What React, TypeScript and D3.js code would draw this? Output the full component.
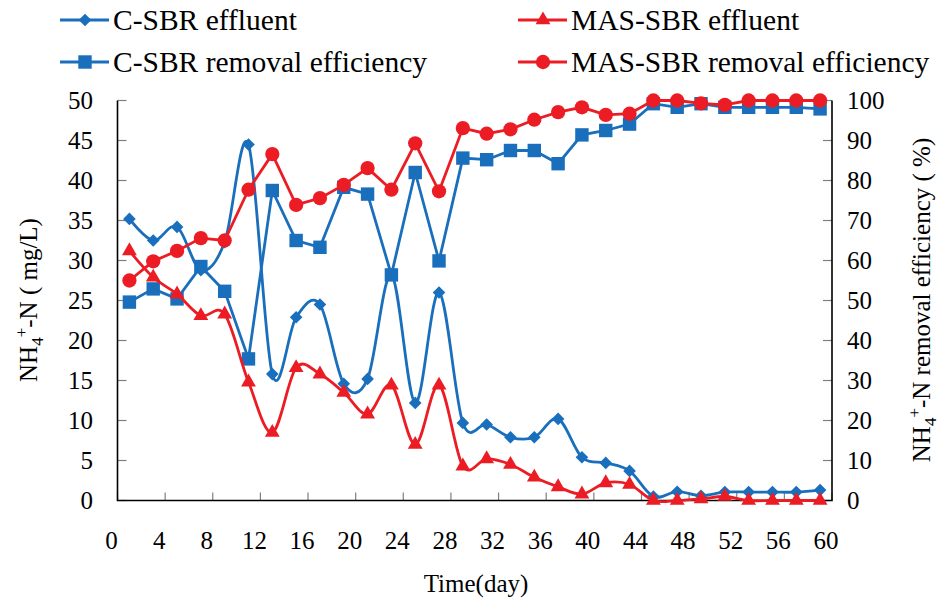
import React, { useEffect, useRef } from 'react'
import * as d3 from 'd3'

// sampling days
const days = [1, 3, 5, 7, 9, 11, 13, 15, 17, 19, 21, 23, 25, 27, 29, 31, 33, 35, 37, 39, 41, 43, 45, 47, 49, 51, 53, 55, 57, 59]

// NH4+-N effluent (mg/L)
const cEffluent = [35.2, 32.5, 34.2, 28.8, 32.3, 44.5, 15.8, 22.9, 24.5, 14.6, 15.2, 28.2, 12.2, 26.0, 9.7, 9.5, 7.9, 7.9, 10.2, 5.4, 4.7, 3.7, 0.5, 1.1, 0.6, 1.05, 1.05, 1.05, 1.05, 1.3]
const masEffluent = [31.2, 27.9, 25.8, 23.1, 23.3, 14.8, 8.5, 16.6, 15.8, 13.5, 10.8, 14.4, 7.0, 14.4, 4.3, 5.2, 4.5, 2.9, 1.7, 0.8, 2.2, 2.0, 0, 0, 0.2, 0.5, 0, 0, 0, 0]

// removal efficiency (%)
const cRemoval = [49.6, 52.9, 50.4, 58.5, 52.3, 35.4, 77.5, 65.0, 63.3, 78.3, 76.6, 56.4, 82.0, 59.9, 85.6, 85.2, 87.5, 87.5, 84.2, 91.4, 92.5, 94.1, 99.2, 98.3, 99.2, 98.3, 98.3, 98.3, 98.3, 97.9]
const masRemoval = [55.0, 59.8, 62.4, 65.6, 65.0, 77.7, 86.6, 73.9, 75.6, 78.9, 83.1, 77.7, 89.3, 77.3, 93.1, 91.7, 92.8, 95.2, 97.1, 98.3, 96.4, 96.7, 100, 100, 99.3, 98.9, 100, 100, 100, 100]

const xTicks = [0, 4, 8, 12, 16, 20, 24, 28, 32, 36, 40, 44, 48, 52, 56, 60]
const leftTicks = [0, 5, 10, 15, 20, 25, 30, 35, 40, 45, 50]
const rightTicks = [0, 10, 20, 30, 40, 50, 60, 70, 80, 90, 100]

const BLUE = '#1a6fbc'
const RED = '#ec1c24'
const FONT = "'Liberation Serif', 'Times New Roman', serif"

const App = () => {
  const svgRef = useRef<SVGSVGElement>(null)

  useEffect(() => {
    const svg = d3.select(svgRef.current)
    svg.selectAll('*').remove()

    const left = 117.5
    const right = 832
    const top = 100.5
    const bottom = 500.5

    const x = d3.scaleLinear().domain([0, 60]).range([left, right])
    const yL = d3.scaleLinear().domain([0, 50]).range([bottom, top])
    const yR = d3.scaleLinear().domain([0, 100]).range([bottom, top])

    // ticks (inside)
    const tickG = svg.append('g').style('stroke', '#7f7f7f').style('stroke-width', 1.2)
    leftTicks.forEach((t) => {
      tickG.append('line').attr('x1', left).attr('x2', left + 9).attr('y1', yL(t)).attr('y2', yL(t))
    })
    rightTicks.forEach((t) => {
      tickG.append('line').attr('x1', right).attr('x2', right - 9).attr('y1', yR(t)).attr('y2', yR(t))
    })
    xTicks.forEach((t) => {
      tickG.append('line').attr('x1', x(t)).attr('x2', x(t)).attr('y1', bottom).attr('y2', bottom - 8)
    })

    // axis lines
    svg
      .append('path')
      .attr('d', `M${left},${top}V${bottom}H${right}V${top}`)
      .style('fill', 'none')
      .style('stroke', '#000')
      .style('stroke-width', 1.6)

    // tick labels
    const labels = svg.append('g').attr('font-family', FONT).attr('font-size', 25).attr('fill', '#000')
    leftTicks.forEach((t) => {
      labels.append('text').attr('x', 93).attr('y', yL(t) + 8).attr('text-anchor', 'end').text(t)
    })
    rightTicks.forEach((t) => {
      labels.append('text').attr('x', 847).attr('y', yR(t) + 8).attr('text-anchor', 'start').text(t)
    })
    xTicks.forEach((t) => {
      labels.append('text').attr('x', x(t) - 6).attr('y', 549).attr('text-anchor', 'middle').text(t)
    })

    // axis titles
    labels.append('text').attr('x', 476).attr('y', 592).attr('text-anchor', 'middle').text('Time(day)')

    const nh4 = (g: any, rest: string) => {
      g.append('tspan').text('NH')
      g.append('tspan').attr('dy', 6).attr('font-size', 17).text('4')
      g.append('tspan').attr('dy', -16).attr('font-size', 17).text('+')
      g.append('tspan').attr('dy', 10).text(rest)
    }
    const lt = labels
      .append('text')
      .attr('transform', `translate(37, 300) rotate(-90)`)
      .attr('text-anchor', 'middle')
    nh4(lt, '-N ( mg/L)')
    const rt = labels
      .append('text')
      .attr('transform', `translate(930, 300) rotate(-90)`)
      .attr('text-anchor', 'middle')
    nh4(rt, '-N removal efficiency ( %)')

    // markers
    const symbols: Record<string, any> = {
      diamond: d3.symbol().type(d3.symbolSquare).size(80),
      square: d3.symbol().type(d3.symbolSquare).size(180),
      triangle: d3.symbol().type(d3.symbolTriangle).size(95),
      circle: d3.symbol().type(d3.symbolCircle).size(160),
    }
    const drawMarker = (g: any, kind: string, cx: number, cy: number, color: string) => {
      g.append('path')
        .attr('d', symbols[kind]())
        .attr('transform', `translate(${cx},${cy})${kind === 'diamond' ? ' rotate(45)' : ''}`)
        .style('fill', color)
    }

    const series = [
      { values: cEffluent, scale: yL, color: BLUE, marker: 'diamond', smooth: true },
      { values: cRemoval, scale: yR, color: BLUE, marker: 'square', smooth: false },
      { values: masEffluent, scale: yL, color: RED, marker: 'triangle', smooth: true },
      { values: masRemoval, scale: yR, color: RED, marker: 'circle', smooth: false },
    ]

    series.forEach((s) => {
      const line = d3
        .line<number>()
        .x((_, i) => x(days[i]))
        .y((d) => s.scale(d))
        .curve(s.smooth ? d3.curveCardinal.tension(0) : d3.curveLinear)
      const g = svg.append('g')
      g.append('path')
        .attr('d', line(s.values))
        .style('fill', 'none')
        .style('stroke', s.color)
        .style('stroke-width', 2.8)
      s.values.forEach((v, i) => drawMarker(g, s.marker, x(days[i]), s.scale(v), s.color))
    })

    // legend
    const legend = [
      { name: 'C-SBR effluent', color: BLUE, marker: 'diamond', lx: 60, ly: 20 },
      { name: 'MAS-SBR effluent', color: RED, marker: 'triangle', lx: 518, ly: 20 },
      { name: 'C-SBR removal efficiency', color: BLUE, marker: 'square', lx: 60, ly: 62 },
      { name: 'MAS-SBR removal efficiency', color: RED, marker: 'circle', lx: 518, ly: 62 },
    ]
    legend.forEach((l) => {
      const g = svg.append('g')
      g.append('line')
        .attr('x1', l.lx)
        .attr('x2', l.lx + 49)
        .attr('y1', l.ly)
        .attr('y2', l.ly)
        .style('stroke', l.color)
        .style('stroke-width', 2.8)
      drawMarker(g, l.marker, l.lx + 25, l.ly, l.color)
      g.append('text')
        .attr('x', l.lx + 53)
        .attr('y', l.ly + 10)
        .attr('font-family', FONT)
        .attr('font-size', 29.5)
        .text(l.name)
    })
  }, [])

  return <svg ref={svgRef} width={942} height={603} style={{ display: 'block', position: 'absolute', left: 0, top: 0 }} />
}

export default App
